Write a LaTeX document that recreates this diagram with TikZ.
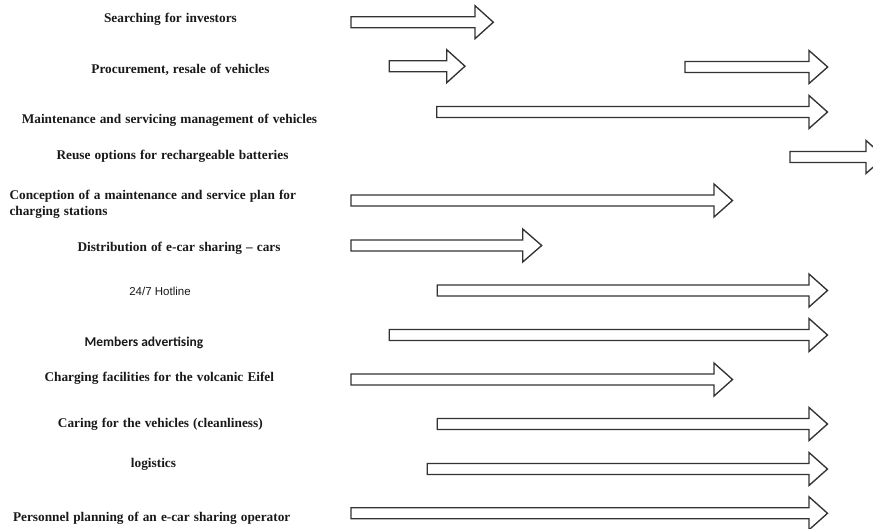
\documentclass[tikz,border=0pt]{standalone}
\usepackage{fontspec}
\setmainfont{Liberation Serif}
\newfontfamily\arialf{Liberation Sans}
\newfontfamily\calf{Carlito}
\newcommand\widespace{\spaceskip=4.1pt\relax}
\begin{document}
\begin{tikzpicture}[x=1pt,y=-1pt,
  lbl/.style={inner sep=0pt,anchor=base,text=black!90,font=\fontsize{13.3}{16}\selectfont\bfseries\widespace},
  blockarrow/.style={draw=black!80,fill=white,line width=1.35pt,line join=miter}]
\useasboundingbox (0,0) rectangle (873,528);
\clip (0,0) rectangle (873,528);
\newcommand\garrow[5]{%
  \draw[blockarrow] (#2,{#5-5.5}) coordinate (#1) -- (#3,{#5-5.5}) -- (#3,{#5-16.5}) -- (#4,#5) -- (#3,{#5+16.5}) -- (#3,{#5+5.5}) -- (#2,{#5+5.5}) -- cycle;}
% labels
\node[lbl] (t1) at (170.5,22) {Searching for investors};
\node[lbl] (t2) at (180.5,73) {Procurement, resale of vehicles};
\node[lbl] (t3) at (169.5,123) {Maintenance and servicing management of vehicles};
\node[lbl] (t4) at (172.5,159.5) {Reuse options for rechargeable batteries};
\node[lbl,anchor=base west] (t5a) at (9.3,199.5) {Conception of a maintenance and service plan for};
\node[lbl,anchor=base west] (t5b) at (9.3,215.5) {charging stations};
\node[lbl] (t6) at (179,251) {Distribution of e-car sharing -- cars};
\node[lbl,font=\arialf\fontsize{11.5}{14}\selectfont] (t7) at (160,295) {24/7 Hotline};
\node[lbl,font=\calf\fontsize{13.5}{16}\selectfont\bfseries] (t8) at (144,346) {Members advertising};
\node[lbl] (t9) at (159.3,381) {Charging facilities for the volcanic Eifel};
\node[lbl] (t10) at (160.3,427.5) {Caring for the vehicles (cleanliness)};
\node[lbl] (t11) at (153.5,467.5) {logistics};
\node[lbl] (t12) at (151.7,521) {Personnel planning of an e-car sharing operator};
% arrows
\garrow{a1}{351}{475}{493.3}{22.2}
\garrow{a2}{389.3}{446.7}{465}{66.2}
\garrow{a2b}{685}{809}{827.7}{67}
\garrow{a3}{436.7}{809}{827.5}{112}
\garrow{a4}{790}{866}{884.5}{157}
\garrow{a5}{351}{714}{732.5}{200.5}
\garrow{a6}{351}{522.7}{541.7}{245.5}
\garrow{a7}{437.3}{809}{827.5}{290.5}
\garrow{a8}{389.3}{809}{827.5}{335}
\garrow{a9}{351}{714}{732.5}{379.5}
\garrow{a10}{437.3}{809}{827.5}{424}
\garrow{a11}{427.3}{809}{827.5}{469}
\garrow{a12}{351}{809}{827.5}{513.3}
\end{tikzpicture}
\end{document}
